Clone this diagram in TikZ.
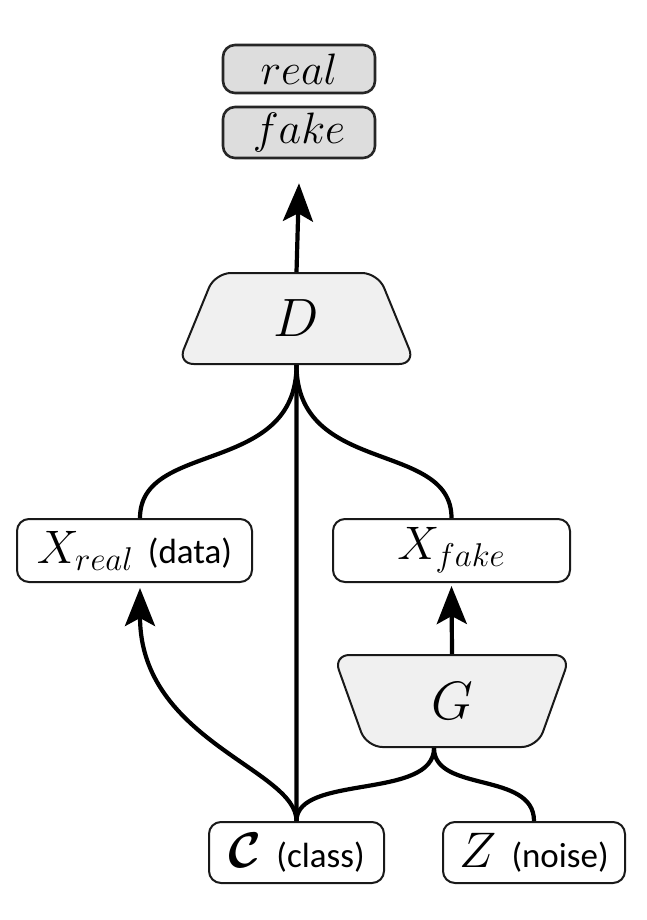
\RequirePackage{fix-cm}
\documentclass[tikz,border=0pt]{standalone}
\usepackage{amsmath}
\usepackage{bm}
\usepackage{fontspec}
\newfontfamily\lblfont{Carlito}
\usetikzlibrary{shapes.geometric,arrows.meta,calc}
\newcommand\lbl[1]{{\lblfont\fontsize{17.5pt}{20pt}\selectfont #1}}
\begin{document}
\begin{tikzpicture}[x=0.5pt,y=-0.5pt,
  outbox/.style={draw=black!85, line width=1.3pt, fill=gray!27, rounded corners=6pt,
    minimum width=76pt, inner sep=0pt, font=\fontsize{22pt}{26pt}\selectfont},
  box/.style={draw=black!90, line width=1pt, fill=white, rounded corners=6pt,
    inner sep=0pt},
  trapbox/.style={trapezium, trapezium stretches=true, draw=black!90, line width=1pt,
    fill=gray!12, rounded corners=8pt, inner sep=0pt, font=\fontsize{27pt}{32pt}\selectfont},
  conn/.style={line width=2.1pt, black},
  arr/.style={conn, -{Stealth[length=19pt, width=15pt, inset=4pt]}}]
\useasboundingbox (0,0) rectangle (647,920);

\node[outbox, minimum height=24pt] (real) at (299,69) {$real$};
\node[outbox, minimum height=25.5pt] (fake) at (299,132.5) {$fake$};
\node[trapbox, trapezium angle=74.3, minimum width=119pt, minimum height=45.5pt] (D) at (296.5,318.5) {$D$};
\node[box, minimum width=117.5pt, minimum height=31.5pt, font=\fontsize{23.5pt}{28pt}\selectfont] (Xr) at (134.5,550.5) {$X_{real}$ \lbl{(data)}};
\node[box, minimum width=118.5pt, minimum height=31.5pt, font=\fontsize{23.5pt}{28pt}\selectfont] (Xf) at (451.5,550.5) {$X_{fake}$};
\node[trapbox, trapezium left angle=102.3, trapezium right angle=102.3, minimum width=118.5pt, minimum height=46pt] (G) at (452,701) {$G$};
\node[box, minimum width=87.5pt, minimum height=30.5pt, font=\fontsize{25pt}{30pt}\selectfont] (C) at (296.5,852.5) {$\bm{\mathcal{C}}$ \lbl{(class)}};
\node[box, minimum width=91pt, minimum height=30.5pt, font=\fontsize{25pt}{30pt}\selectfont] (Z) at (534,852.5) {$Z$ \lbl{(noise)}};

\coordinate (Gj) at ($(G.south)+(-18,0)$);

\draw[arr] (D.north) -- ($(fake.south)+(0,24)$);
\draw[conn] (D.south) -- (C.north);
\draw[conn] (D.south) .. controls +(0,111) and +(0,-78) .. ($(Xr.north)+(5.5,0)$);
\draw[conn] (D.south) .. controls +(0,111) and +(0,-78) .. (Xf.north);
\draw[arr] (C.north) .. controls +(0,-52) and +(0,153) .. ($(Xr.south)+(5.5,5)$);
\draw[arr] (G.north) -- ($(Xf.south)+(0,3)$);
\draw[conn] (Gj) .. controls +(0,52) and +(0,-47) .. (C.north);
\draw[conn] (Gj) .. controls +(0,45) and +(0,-50) .. (Z.north);
\end{tikzpicture}
\end{document}
